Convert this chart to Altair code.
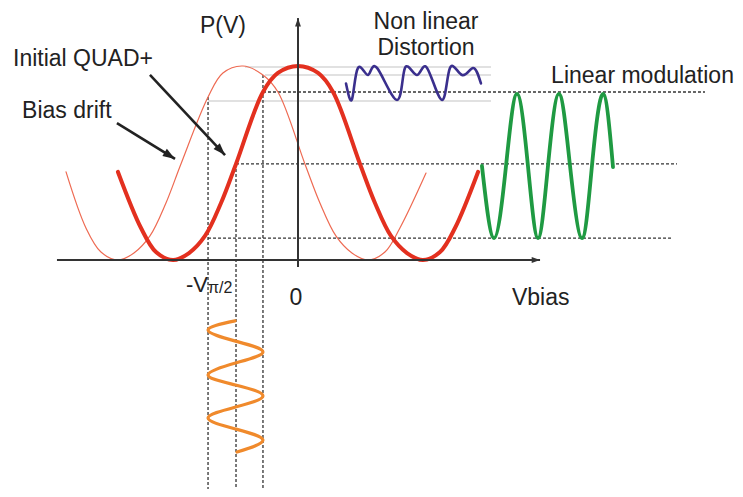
import altair as alt
import pandas as pd

# ---- diagram values: bias voltage in units of V_pi, optical power normalised to the peak ----
# transfer function at the initial QUAD+ bias (thick red)
quad_v = [-1.429, -1.246, -1.127, -0.992, -0.865, -0.738, -0.611, -0.492, -0.278, -0.159, 0.0,
          0.159, 0.278, 0.492, 0.611, 0.738, 0.865, 0.992, 1.127, 1.246, 1.429]
quad_p = [0.454, 0.165, 0.041, 0.0, 0.036, 0.124, 0.294, 0.495, 0.866, 0.964, 1.0,
          0.964, 0.866, 0.495, 0.294, 0.124, 0.036, 0.0, 0.041, 0.165, 0.454]
# transfer function after the bias drift (thin red)
drift_v = [-1.841, -1.683, -1.564, -1.429, -1.302, -1.175, -1.048, -0.929, -0.714, -0.596, -0.437,
           -0.278, -0.159, 0.055, 0.174, 0.301, 0.428, 0.555, 0.690, 0.809, 1.016]
drift_p = [0.454, 0.165, 0.041, 0.0, 0.036, 0.124, 0.294, 0.495, 0.840, 0.964, 1.0,
           0.954, 0.866, 0.495, 0.294, 0.124, 0.036, 0.0, 0.041, 0.165, 0.448]
# linear modulation output (green)
lin_v = [1.460, 1.556, 1.651, 1.738, 1.825, 1.905, 1.984, 2.071, 2.159, 2.254, 2.333, 2.421, 2.500]
lin_p = [0.485, 0.113, 0.485, 0.856, 0.485, 0.113, 0.485, 0.856, 0.485, 0.113, 0.485, 0.856, 0.479]
# non linear distorted output (purple)
nl_v = [0.381, 0.429, 0.476, 0.556, 0.627, 0.786, 0.849, 0.944, 1.024, 1.143, 1.206, 1.302, 1.389, 1.452]
nl_p = [0.910, 0.830, 0.990, 0.954, 0.990, 0.825, 0.990, 0.954, 0.990, 0.825, 0.990, 0.954, 0.990, 0.910]
# drive signal applied around -V_pi/2 (orange, drawn downward)
drive_v = [-0.500, -0.714, -0.496, -0.278, -0.496, -0.714, -0.496, -0.278, -0.496, -0.714, -0.496,
           -0.278, -0.484]
drive_p = [-0.314, -0.361, -0.418, -0.474, -0.531, -0.593, -0.644, -0.701, -0.758, -0.814, -0.871,
           -0.928, -0.990]

# guide lines
dash_x1 = [-0.278, -0.492, -0.714]          # horizontal dotted lines (start, end, level)
dash_x2 = [3.230, 3.008, 2.968]
dash_y = [0.866, 0.495, 0.113]
vdash_x = [-0.714, -0.492, -0.278]          # vertical dotted lines (x, top)
vdash_top = [0.840, 0.495, 0.954]
grey_x1 = [-0.421, -0.262, -0.714]          # thin grey levels of the drifted curve
grey_y = [0.995, 0.954, 0.820]
grey_end = 1.532

# annotation arrows (tail -> head)
arr_x1 = [-1.175, -1.437]
arr_y1 = [0.954, 0.706]
arr_x2 = [-0.579, -0.976]
arr_y2 = [0.541, 0.521]
arr_ang = [136.8, 121.8]

FONT = "Liberation Sans"
INK = "#222222"
xs = alt.Scale(domain=[-2.3016, 3.4683], nice=False, zero=False)
ys = alt.Scale(domain=[-1.1804, 1.2990], nice=False, zero=False)
HEAD = "M0,0L-0.7,2L0.7,2Z"


def X(f):
    return alt.X(f, type="quantitative", scale=xs, axis=None)


def Y(f):
    return alt.Y(f, type="quantitative", scale=ys, axis=None)


def curve(vs, ps, color, width, interp):
    df = pd.DataFrame({"v": vs, "p": ps, "i": list(range(len(vs)))})
    return alt.Chart(df).mark_line(color=color, strokeWidth=width, interpolate=interp,
                                   strokeCap="round").encode(
        x=X("v"), y=Y("p"), order=alt.Order("i:Q"))


def rules(df, color, width, dash=None):
    kw = dict(color=color, strokeWidth=width)
    if dash is not None:
        kw["strokeDash"] = dash
    return alt.Chart(df).mark_rule(**kw).encode(
        x=X("x1"), x2="x2:Q", y=Y("y1"), y2="y2:Q")


def text(label, x, y, size=23, align="left"):
    df = pd.DataFrame({"t": [label], "x": [x], "y": [y]})
    return alt.Chart(df).mark_text(font=FONT, fontSize=size, color=INK, align=align,
                                   baseline="alphabetic").encode(
        x=X("x"), y=Y("y"), text="t:N")


grey = pd.DataFrame({"x1": grey_x1, "x2": [grey_end] * 3, "y1": grey_y, "y2": grey_y})
hd = pd.DataFrame({"x1": dash_x1, "x2": dash_x2, "y1": dash_y, "y2": dash_y})
vd = pd.DataFrame({"x1": vdash_x, "x2": vdash_x, "y1": vdash_top, "y2": [-1.25] * 3})
axes = pd.DataFrame({"x1": [-1.913, 0.0], "x2": [1.921, 0.0], "y1": [0.0, -0.036], "y2": [0.0, 1.247]})
axis_heads = pd.DataFrame({"x": [1.921, 0.0], "y": [0.0, 1.247], "a": [90.0, 0.0]})
arrows = pd.DataFrame({"x1": arr_x1, "x2": arr_x2, "y1": arr_y1, "y2": arr_y2})
arrow_heads = pd.DataFrame({"x": arr_x2, "y": arr_y2, "a": arr_ang})

layers = [
    rules(grey, "#c4c4c4", 1.1),
    rules(hd, "#333333", 1.3, [3, 2]),
    rules(vd, "#333333", 1.3, [3, 2]),
    curve(drift_v, drift_p, "#ee6a52", 1.2, "catmull-rom"),
    curve(quad_v, quad_p, "#e3301f", 4, "catmull-rom"),
    curve(lin_v, lin_p, "#1f9a42", 3.8, "natural"),
    curve(nl_v, nl_p, "#3a2f8d", 2.6, "natural"),
    curve(drive_v, drive_p, "#f08a2c", 3.2, "natural"),
    rules(axes, "#333333", 2),
    alt.Chart(axis_heads).mark_point(shape=HEAD, filled=True, color="#333333", size=70,
                                     opacity=1, strokeWidth=0).encode(
        x=X("x"), y=Y("y"), angle=alt.Angle("a:Q", scale=None)),
    rules(arrows, INK, 2.6),
    alt.Chart(arrow_heads).mark_point(shape=HEAD, filled=True, color=INK, size=150,
                                      opacity=1, strokeWidth=0).encode(
        x=X("x"), y=Y("y"), angle=alt.Angle("a:Q", scale=None)),
    text("P(V)", -0.595, 1.170, align="center"),
    text("Initial QUAD+", -2.262, 1.0),
    text("Bias drift", -2.190, 0.732),
    text("Non linear", 1.016, 1.191, align="center"),
    text("Distortion", 1.016, 1.057, align="center"),
    text("Linear modulation", 3.460, 0.912, align="right"),
    text("Vbias", 1.698, -0.232),
    text("0", -0.016, -0.232, align="center"),
    text("-V", -0.889, -0.165, size=22),
    text("\u03c0/2", -0.714, -0.170, size=16),
]

chart = alt.layer(*layers).properties(
    width=727, height=481, padding=0,
    autosize=alt.AutoSizeParams(type="none"),
    background="white",
).configure_view(stroke=None)

chart.save("out.html", embed_options={"renderer": "svg", "actions": False})
